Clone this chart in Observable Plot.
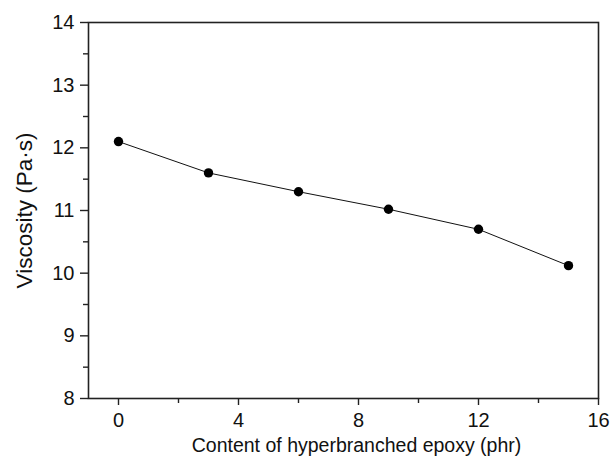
<!DOCTYPE html>
<html><head><meta charset="utf-8">
<script src="https://cdn.jsdelivr.net/npm/d3@7"></script>
<script src="https://cdn.jsdelivr.net/npm/@observablehq/plot@0.6"></script>
<style>body{margin:0;background:#fff;}svg{font-family:"Liberation Sans",Arial,sans-serif;}</style>
</head><body><div id="c"></div>
<script>
const content = [0, 3, 6, 9, 12, 15];
const viscosity = [12.1, 11.6, 11.3, 11.02, 10.7, 10.12];
const xTicks = [0, 4, 8, 12, 16];
const xMinor = [2, 6, 10, 14];
const yTicks = [8, 9, 10, 11, 12, 13, 14];
const yMinor = [8.5, 9.5, 10.5, 11.5, 12.5, 13.5];
const data = content.map((c, i) => ({x: c, y: viscosity[i]}));
const chart = Plot.plot({
  width: 611, height: 457,
  marginLeft: 88, marginRight: 13, marginTop: 22, marginBottom: 59,
  style: {fontSize: "20px", fontFamily: "Liberation Sans, Arial, sans-serif", color: "#111", background: "#fff"},
  x: {domain: [-1, 16], label: null},
  y: {domain: [8, 14], label: null},
  marks: [
    Plot.frame({stroke: "#222", strokeWidth: 1.6}),
    Plot.axisX({ticks: xTicks, tickSize: 7, tickPadding: 7, fontSize: 20, tickFormat: d3.format("d"), label: null, stroke: "#222", strokeWidth: 1.4, fill: "#111"}),
    Plot.axisX({ticks: xMinor, tickSize: 5, tickFormat: () => "", label: null, stroke: "#222", strokeWidth: 1.4}),
    Plot.axisY({ticks: yTicks, tickSize: 8, tickPadding: 6, fontSize: 20, tickFormat: d3.format("d"), label: null, stroke: "#222", strokeWidth: 1.4, fill: "#111"}),
    Plot.axisY({ticks: yMinor, tickSize: 5, tickFormat: () => "", label: null, stroke: "#222", strokeWidth: 1.4}),
    Plot.line(data, {x: "x", y: "y", stroke: "#111", strokeWidth: 1}),
    Plot.dot(data, {x: "x", y: "y", r: 4.7, fill: "#000", stroke: "none"}),
    Plot.text(["Content of hyperbranched epoxy (phr)"], {frameAnchor: "bottom", lineAnchor: "middle", textAnchor: "middle", dx: 13, dy: 47.5, fontSize: 19.5, fill: "#111"}),
    Plot.text(["Viscosity (Pa·s)"], {frameAnchor: "left", lineAnchor: "middle", textAnchor: "middle", dx: -64.2, rotate: -90, fontSize: 22.5, fill: "#111"})
  ]
});
document.getElementById("c").appendChild(chart);
</script>
</body></html>
